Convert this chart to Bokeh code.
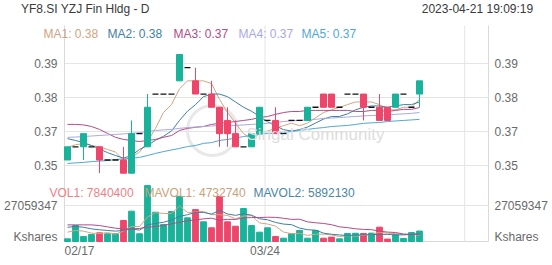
import numpy as np
import pandas as pd
from bokeh.plotting import figure
from bokeh.models import Range1d, Label, ColumnDataSource
from bokeh.embed import file_html
from bokeh.resources import INLINE

title_text = "YF8.SI YZJ Fin Hldg - D"
timestamp_text = "2023-04-21  19:09:19"

dates = ["02/17", "02/20", "02/21", "02/22", "02/23", "02/24", "02/27", "02/28",
         "03/01", "03/02", "03/03", "03/06", "03/07", "03/08", "03/09", "03/10",
         "03/13", "03/14", "03/15", "03/16", "03/17", "03/20", "03/21", "03/22",
         "03/23", "03/24", "03/27", "03/28", "03/29", "03/30", "03/31", "04/03",
         "04/04", "04/05", "04/06", "04/10", "04/11", "04/12", "04/13", "04/14",
         "04/17", "04/18", "04/19", "04/20", "04/21"]
open_ = [0.355, 0.36, 0.36, 0.36, 0.36, 0.355, 0.355, 0.355, 0.35, 0.365, 0.36, 0.38, 0.38, 0.38, 0.385,
         0.39, 0.385, 0.38, 0.38, 0.375, 0.37, 0.365, 0.36, 0.36, 0.365, 0.37, 0.37, 0.365, 0.37, 0.37,
         0.37, 0.375, 0.38, 0.38, 0.375, 0.38, 0.38, 0.38, 0.375, 0.375, 0.375, 0.375, 0.38, 0.375, 0.38]
high = [0.36, 0.36, 0.365, 0.36, 0.36, 0.355, 0.355, 0.36, 0.37, 0.365, 0.38, 0.38, 0.38, 0.38, 0.395,
        0.39, 0.39, 0.38, 0.385, 0.375, 0.375, 0.37, 0.36, 0.365, 0.375, 0.37, 0.375, 0.365, 0.37, 0.37,
        0.375, 0.375, 0.38, 0.38, 0.375, 0.38, 0.38, 0.38, 0.375, 0.38, 0.375, 0.38, 0.38, 0.375, 0.385]
low = [0.355, 0.36, 0.355, 0.36, 0.35, 0.355, 0.355, 0.35, 0.35, 0.365, 0.36, 0.38, 0.38, 0.38, 0.385,
       0.39, 0.38, 0.38, 0.375, 0.36, 0.36, 0.36, 0.36, 0.36, 0.365, 0.37, 0.365, 0.365, 0.37, 0.37,
       0.37, 0.375, 0.375, 0.375, 0.375, 0.38, 0.38, 0.37, 0.375, 0.37, 0.37, 0.375, 0.38, 0.375, 0.375]
close = [0.36, 0.36, 0.365, 0.36, 0.355, 0.355, 0.355, 0.35, 0.365, 0.365, 0.375, 0.38, 0.38, 0.38, 0.395,
         0.39, 0.38, 0.38, 0.375, 0.365, 0.365, 0.36, 0.36, 0.365, 0.375, 0.37, 0.365, 0.365, 0.37, 0.37,
         0.375, 0.375, 0.375, 0.375, 0.375, 0.38, 0.38, 0.375, 0.375, 0.37, 0.37, 0.38, 0.38, 0.375, 0.385]
volume = [2000000, 12000000, 3800000, 5300000, 6500000, 5800000, 5800000, 15800000, 22800000, 5800000,
          42000000, 22000000, 12800000, 22500000, 34000000, 17800000, 24000000, 14800000, 10300000, 34000000,
          14800000, 11500000, 24800000, 12000000, 7000000, 10300000, 3800000, 2500000, 5800000, 8300000,
          2500000, 8300000, 2500000, 3300000, 2000000, 6000000, 6200000, 6000000, 6300000, 10760000,
          1800000, 5000000, 2300000, 6700000, 7840400]

ma1_start = [0.3597, 0.3608, 0.3612, 0.3605]
ma2_start = [0.3631, 0.3624, 0.3616, 0.3605, 0.3592, 0.3578, 0.3567, 0.3557, 0.3567]
# slower moving averages
ma3 = [0.3685, 0.3685, 0.3683, 0.3677, 0.3666, 0.3651, 0.3636, 0.3628, 0.3624, 0.3620, 0.3624, 0.3628,
       0.3636, 0.3643, 0.3662, 0.3670, 0.3674, 0.3677, 0.3685, 0.3689, 0.3692, 0.3696, 0.3700, 0.3704,
       0.3711, 0.3715, 0.3723, 0.3730, 0.3734, 0.3734, 0.3738, 0.3738, 0.3738, 0.3738, 0.3738, 0.3738,
       0.3734, 0.3734, 0.3738, 0.3738, 0.3734, 0.3738, 0.3742, 0.3742, 0.3749]
ma4 = [0.3636, 0.3637, 0.3639, 0.3641, 0.3643, 0.3645, 0.3647, 0.3649, 0.3651, 0.3654, 0.3658, 0.3662,
       0.3664, 0.3666, 0.3670, 0.3673, 0.3675, 0.3677, 0.3679, 0.3681, 0.3681, 0.3681, 0.3683, 0.3685,
       0.3687, 0.3689, 0.3692, 0.3696, 0.3698, 0.3700, 0.3702, 0.3704, 0.3708, 0.3709, 0.3711, 0.3713,
       0.3715, 0.3717, 0.3719, 0.3719, 0.3721, 0.3723, 0.3725, 0.3727, 0.3730]
ma5 = [0.3537, 0.3539, 0.3541, 0.3544, 0.3546, 0.3548, 0.3552, 0.3554, 0.3556, 0.3560, 0.3567, 0.3575,
       0.3582, 0.3588, 0.3594, 0.3601, 0.3605, 0.3613, 0.3616, 0.3624, 0.3628, 0.3633, 0.3639, 0.3643,
       0.3647, 0.3651, 0.3652, 0.3654, 0.3658, 0.3662, 0.3666, 0.3670, 0.3673, 0.3677, 0.3679, 0.3681,
       0.3685, 0.3689, 0.3691, 0.3692, 0.3696, 0.3698, 0.3700, 0.3702, 0.3704]
mavol1_start = [7000000, 8300000, 7800000, 6300000]
mavol2_start = [10700000, 11300000, 10700000, 9500000, 8800000, 8300000, 7800000, 8300000, 9500000]
mavol3_start = [12500000, 12500000, 12500000, 12500000, 12000000, 11000000, 10000000, 9300000, 9500000,
                9800000, 10700000, 11300000, 12000000, 13300000, 14500000, 15500000, 16300000, 17000000,
                17500000]

ma_names = ["MA1", "MA2", "MA3", "MA4", "MA5"]
ma_values_text = ["0.38", "0.38", "0.37", "0.37", "0.37"]
ma_colors = ["#cfa582", "#3f7f9f", "#b24b86", "#a9a9e2", "#4fa8cf"]
vol_colors = ["#cfa582", "#3f7f9f", "#b24b86"]
vol_legend = [("VOL1: 7840400", "#ef7f87"), ("MAVOL1: 4732740", "#c9a27c"), ("MAVOL2: 5892130", "#4a86a4")]

price_ticks = [0.3916, 0.3787, 0.3658, 0.3529]
price_tick_labels = ["0.39", "0.38", "0.37", "0.35"]
vol_tick = 27059347
vol_unit = "Kshares"
date_labels = ["02/17", "03/24"]

UP = "#19b39b"
DOWN = "#f0456a"
FLAT = "#111111"
GRID = "#e4e4e4"
BORDER = "#dadada"
LABEL = "#6a6a6a"
FONT = "Liberation Sans"

n = len(close)
idx = np.arange(n)
o = np.array(open_); c = np.array(close); h = np.array(high); l = np.array(low)
colors = [DOWN if cc < oo else UP for oo, cc in zip(o, c)]

def moving_average(values, start):
    """Simple moving average; the first points (whose window reaches before the
    visible data) are the values read off the chart."""
    w = len(start) + 1
    ma = pd.Series(values, dtype=float).rolling(w).mean().values
    ma[:len(start)] = start
    return ma

# ---- pixel geometry (layout only) ----
W, H = 552, 265
def xpx(px):            # canvas x -> bar index
    return (px - 67) / 8.0
def ypx(py):            # canvas y -> price
    return (1096 - py) / 2638.0
def vpx(py):            # canvas y -> volume
    return (241 - py) * vol_tick / 36.0

FX0, FX1 = xpx(64), xpx(488)        # chart box left/right
BOX_TOP, BOX_BOTTOM = 25, 241
grid_x = [xpx(64), xpx(264.5), xpx(464.2), xpx(488)]

p = figure(width=W, height=H, x_range=Range1d(xpx(0), xpx(W)), y_range=Range1d(ypx(H), ypx(0)),
           output_backend="svg", toolbar_location=None, x_axis_location=None, y_axis_location=None,
           min_border=0, min_border_left=0, min_border_right=0, min_border_top=0, min_border_bottom=0)
p.extra_y_ranges = {"vol": Range1d(vpx(H), vpx(0))}
p.grid.visible = False
p.outline_line_color = None
p.background_fill_color = "white"
p.border_fill_color = "white"

def clabel(cx, cy, text, color, size="12px", align="left"):
    p.add_layout(Label(x=cx, y=cy, x_units="canvas", y_units="canvas", text=text,
                       text_font=FONT, text_font_size=size, text_color=color,
                       text_baseline="middle", text_align=align))

# ---- grid and box ----
p.segment(x0=[FX0] * len(price_ticks), y0=price_ticks, x1=[FX1] * len(price_ticks), y1=price_ticks,
          color=GRID, line_width=1)
p.segment(x0=[FX0], y0=[vol_tick], x1=[FX1], y1=[vol_tick], color=GRID, line_width=1, y_range_name="vol")
p.segment(x0=grid_x, y0=[ypx(BOX_TOP)] * len(grid_x), x1=grid_x, y1=[ypx(BOX_BOTTOM)] * len(grid_x),
          color=[BORDER, GRID, GRID, BORDER], line_width=1)
p.segment(x0=[FX0], y0=[0], x1=[FX1], y1=[0], color=BORDER, line_width=1, y_range_name="vol")

# ---- axis labels (both sides) ----
for t, s in zip(price_ticks, price_tick_labels):
    p.add_layout(Label(x=57, y=t, x_units="canvas", text=s, text_font=FONT, text_font_size="12px",
                       text_color=LABEL, text_baseline="middle", text_align="right"))
    p.add_layout(Label(x=494, y=t, x_units="canvas", text=s, text_font=FONT, text_font_size="12px",
                       text_color=LABEL, text_baseline="middle", text_align="left"))
for t, s in [(vol_tick, str(vol_tick)), (vpx(236), vol_unit)]:
    p.add_layout(Label(x=57, y=t, x_units="canvas", y_range_name="vol", text=s, text_font=FONT,
                       text_font_size="12px", text_color=LABEL, text_baseline="middle", text_align="right"))
    p.add_layout(Label(x=494, y=t, x_units="canvas", y_range_name="vol", text=s, text_font=FONT,
                       text_font_size="12px", text_color=LABEL, text_baseline="middle", text_align="left"))
date_x = [xpx(64), xpx(264.5)]
for dx, s, al in zip(date_x, date_labels, ["left", "center"]):
    p.add_layout(Label(x=dx, y=250, y_units="canvas", text=s, text_font=FONT, text_font_size="12px",
                       text_color=LABEL, text_baseline="middle", text_align=al))

# ---- watermark ----
p.scatter([xpx(212)], [ypx(130)], size=50, marker="circle", fill_color=None, line_color="#e8e8e8", line_width=3)
clabel(246, 134, "Singal Community", "#dddddd", size="17px")

# ---- moving averages of close ----
ma1 = moving_average(c, ma1_start)
ma2 = moving_average(c, ma2_start)
for ma, col in zip([ma1, ma2, ma3, ma4, ma5], ma_colors):
    p.line(idx, ma, color=col, line_width=1)

# ---- candles ----
body_mask = o != c
bsrc = ColumnDataSource(dict(x=idx[body_mask], top=np.maximum(o, c)[body_mask], bottom=np.minimum(o, c)[body_mask],
                             high=h[body_mask], low=l[body_mask], color=np.array(colors)[body_mask]))
p.segment(x0="x", y0="low", x1="x", y1="high", color="color", line_width=1, source=bsrc)
p.vbar(x="x", width=0.75, top="top", bottom="bottom", fill_color="color", line_color="color", source=bsrc)
flat_mask = o == c
p.segment(x0=idx[flat_mask] - 0.375, y0=c[flat_mask], x1=idx[flat_mask] + 0.375, y1=c[flat_mask],
          color=FLAT, line_width=1.3)

# ---- volume ----
p.vbar(x=idx, width=0.72, top=volume, bottom=0, fill_color=colors, line_color=colors, y_range_name="vol")
for start, col in zip([mavol1_start, mavol2_start, mavol3_start], vol_colors):
    p.line(idx, moving_average(volume, start), color=col, line_width=1, y_range_name="vol")

# ---- title / timestamp / legends ----
clabel(20.5, 8, title_text, "#3a3a3a")
clabel(536, 8, timestamp_text, "#3a3a3a", align="right")
for lx, nm, val, col in zip([43, 107, 173, 238, 301], ma_names, ma_values_text, ma_colors):
    clabel(lx, 33, f"{nm}: {val}", col)
for lx, (txt, col) in zip([49, 144, 253], vol_legend):
    clabel(lx, 192, txt, col)

open("out.html", "w").write(file_html(p, INLINE))
